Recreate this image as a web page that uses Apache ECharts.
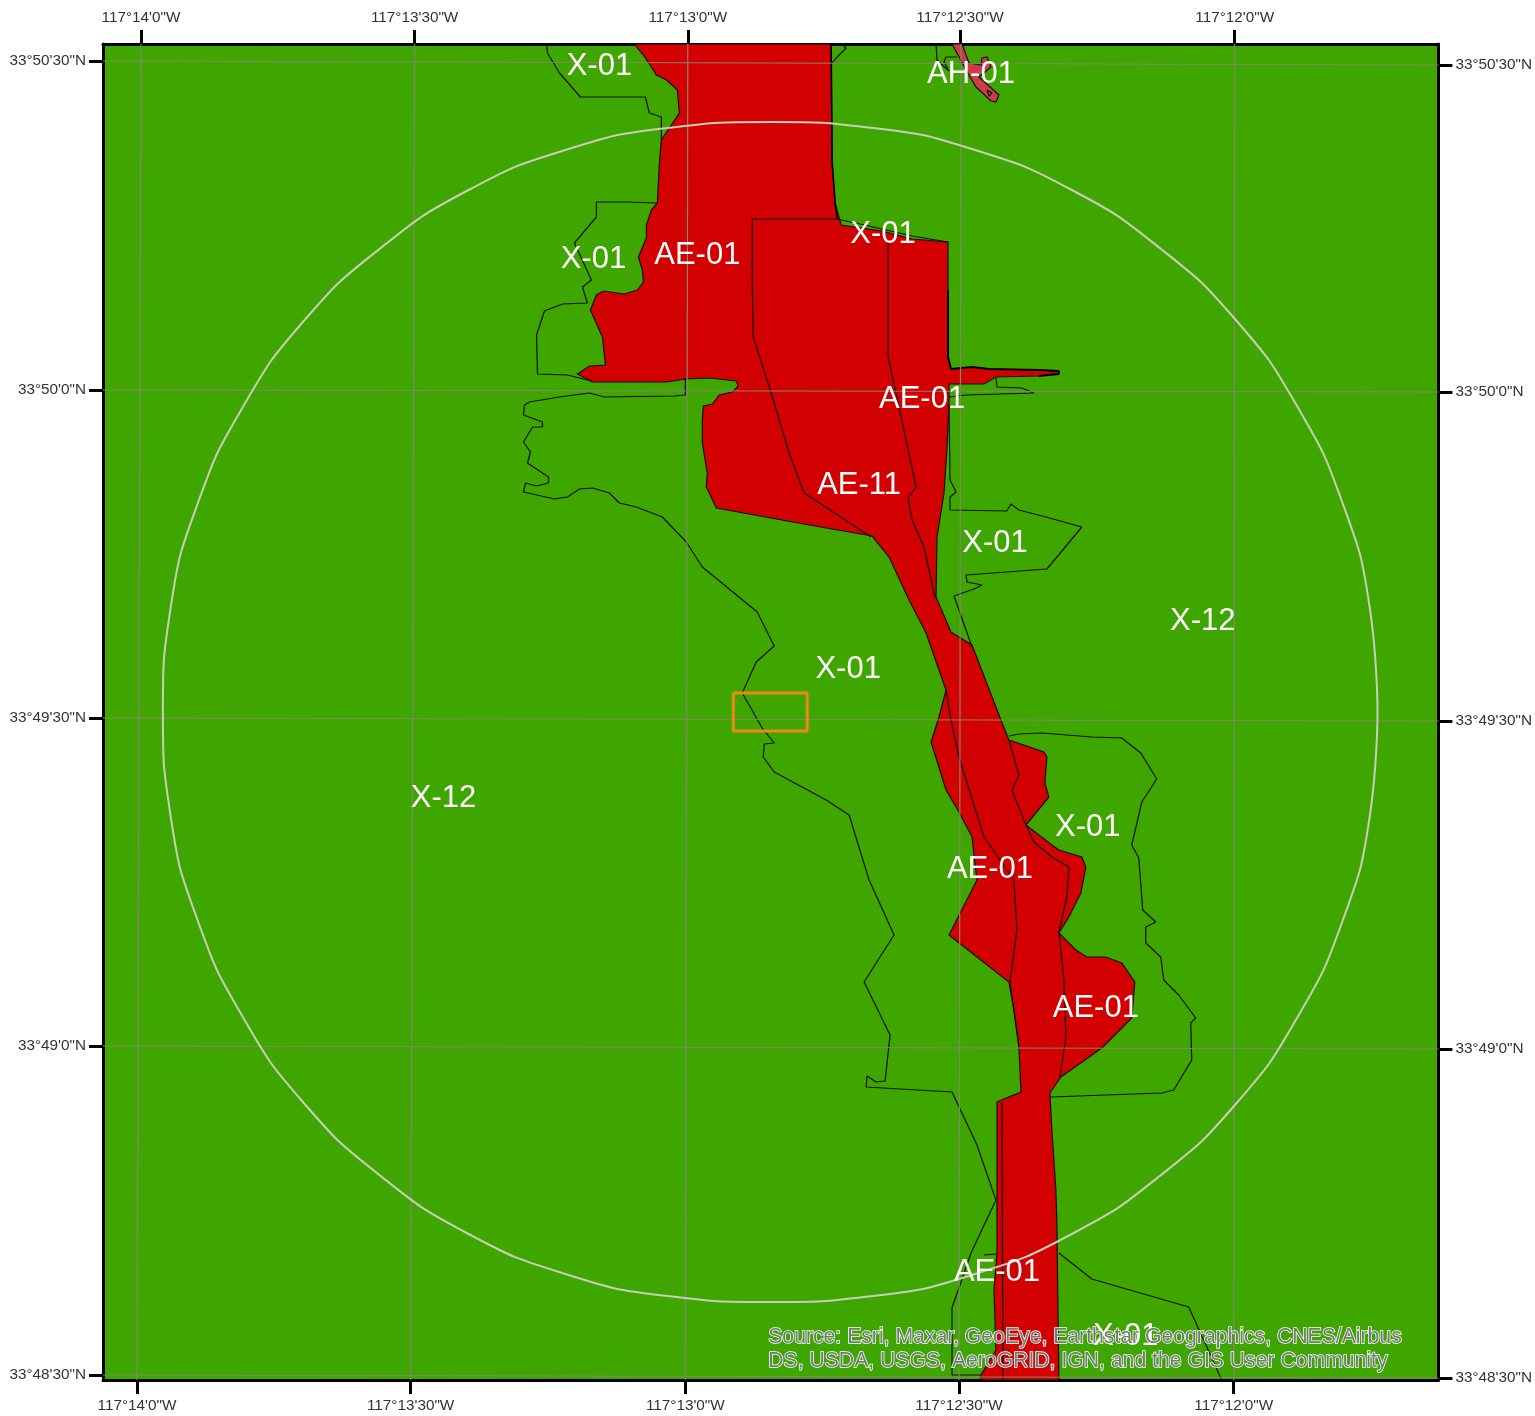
<!DOCTYPE html>
<html><head><meta charset="utf-8"><title>Flood zones</title>
<style>html,body{margin:0;padding:0;background:#fff}#c{width:1535px;height:1416px}</style>
<script src="https://cdn.jsdelivr.net/npm/echarts@6/dist/echarts.min.js"></script></head>
<body><div id="c"></div>
<script>
// Map data, in projected map units (1 unit = about 2.81 m), y growing south.
const lonLabels = ["117°14'0\"W","117°13'30\"W","117°13'0\"W","117°12'30\"W","117°12'0\"W"];
const latLabels = ["33°50'30\"N","33°50'0\"N","33°49'30\"N","33°49'0\"N","33°48'30\"N"];
const lonBottom = [137,411,686,960,1235];
const lonTop = [141,415,688.5,961,1236];
const latLeft = [61,390,718,1046,1375];
const latRight = [65,392,721,1049,1378];
const mapExtentX = [103,1440];
const mapExtentY = [44,1380];

const zoneAE = [[635,44],[644,55],[652,67],[657,75],[667,80],[678,90],[680,113],[672,125],[662,140],[660,163],[658,203],[652,210],[647,225],[647,238],[639,257],[643,270],[644,282],[638,290],[625,294],[604,291],[597,295],[591,310],[603,337],[606,365],[590,366],[578,374],[593,382],[653,382],[667,382],[687,379],[710,378],[737,381],[739,386],[733,392],[720,395],[713,404],[704,406],[703,420],[703,443],[708,473],[707,487],[717,508],[810,525],[873,536],[890,557],[910,600],[927,633],[947,690],[940,717],[932,742],[947,790],[960,812],[973,837],[975,855],[978,880],[950,935],[1010,982],[1015,1010],[1020,1047],[1022,1092],[1000,1101],[998,1102],[998,1200],[998,1253],[995,1290],[997,1350],[982,1375],[982,1380],[1060,1380],[1058,1223],[1057,1190],[1053,1130],[1051,1093],[1062,1077],[1103,1048],[1133,1018],[1136,982],[1123,963],[1107,957],[1088,957],[1077,950],[1060,933],[1070,917],[1082,893],[1087,867],[1083,857],[1060,850],[1053,845],[1027,825],[1050,797],[1046,783],[1048,757],[1045,752],[1010,740],[1002,720],[973,645],[952,632],[937,597],[938,537],[945,493],[948,447],[950,405],[950,384],[985,384],[997,377],[1040,376],[1060,373],[1060,371],[1040,370],[990,369],[973,367],[952,369],[949,357],[949,290],[949,242],[913,239],[883,231],[842,225],[836,203],[833,163],[832,44]];
const zoneAH = [[953,44],[963,44],[970,63],[982,65],[983,58],[988,57],[992,67],[980,77],[1000,95],[997,102],[992,101],[977,87],[967,70],[960,57]];

const inner1 = [[838,219],[753,219],[753,280],[754,337],[772,393],[790,453],[805,493],[872,537]];
const inner2 = [[889,243],[889,357],[900,407],[917,487],[909,498],[913,520],[925,547],[936,598]];
const inner3 = [[947,690],[952,720],[960,757],[985,837],[1015,880],[1018,930],[1011,982],[1020,1047]];
const inner4 = [[1010,740],[1020,775],[1013,790],[1027,825],[1035,842],[1053,857],[1070,867],[1068,897],[1060,932],[1065,980],[1067,1037],[1061,1077]];
const inner5 = [[1003,1102],[1004,1380]];
const notch = [[985,1255],[997,1254]];

const x01a = [[547,44],[548,53],[560,73],[581,97],[646,97],[650,113],[662,117],[662,140]];
const x01b = [[658,203],[627,202],[597,202],[597,217],[575,243],[592,280],[583,287],[588,303],[563,304],[545,311],[537,335],[538,374],[568,375],[592,381]];
const x01c = [[686,378],[686,395],[675,396],[605,397],[590,393],[560,397],[530,402],[525,405],[524,415],[543,422],[543,427],[533,427],[524,442],[531,452],[528,463],[549,477],[549,483],[537,486],[526,483],[524,492],[555,499],[568,497],[580,489],[593,488],[610,493],[620,503],[637,507],[663,517],[687,542],[703,567],[758,612],[775,646],[757,662],[743,693],[763,728],[775,743],[765,744],[764,757],[775,772],[827,800],[850,815],[870,880],[895,935],[865,982],[891,1035],[886,1081],[877,1082],[868,1076],[866,1076],[867,1087],[953,1092],[978,1145],[997,1200],[972,1253],[953,1308],[953,1375],[982,1375]];
const x01d = [[1060,1253],[1093,1279],[1190,1307],[1223,1380]];
const x01e = [[1052,1097],[1163,1093],[1175,1090],[1193,1060],[1192,1023],[1197,1018],[1180,995],[1165,980],[1162,957],[1147,943],[1147,927],[1157,922],[1144,910],[1140,858],[1133,845],[1143,802],[1158,779],[1142,753],[1123,738],[1093,737],[1043,733],[1020,734],[1010,736]];
const x01f = [[950,405],[951,480],[957,492],[951,497],[951,510],[1008,511],[1012,504],[1020,510],[1047,517],[1083,527],[1048,569],[967,575],[968,582],[983,585],[975,589],[955,596],[960,610],[973,647]];
const x01g = [[997,378],[998,387],[1023,388],[1035,393],[967,395],[950,397]];
const x01h = [[838,219],[870,226],[913,236],[949,242]];
const x01i = [[842,44],[847,48],[837,58],[833,63]];
const ahEdge = [[937,44],[938,60],[950,71],[945,62],[947,57],[958,57]];
const ahHole = [[988,90],[993,93],[990,96],[988,90]];
const spurEdge = [[949,290],[949,357],[952,369],[973,367],[990,369],[1040,370],[1060,371],[1060,374],[1040,376]];
const eastEdge = [[832,44],[833,163],[836,203],[838,219]];

const bufferRing = [[1379,712],[1371,606],[1344,503],[1299,407],[1238,321],[1161,248],[1073,190],[976,150],[874,128],[771,122],[668,128],[566,150],[469,190],[381,248],[304,321],[243,407],[198,503],[171,606],[163,712],[171,818],[198,921],[243,1017],[304,1103],[381,1176],[469,1234],[566,1274],[668,1296],[771,1302],[874,1296],[976,1274],[1073,1234],[1161,1176],[1238,1103],[1299,1017],[1344,921],[1371,818],[1379,712]];
const studyBox = [[734,693],[808,693],[808,731],[734,731],[734,693]];

const zoneLabels = [["X-01",600,64],["AH-01",972,72],["X-01",884,232],["X-01",594,257],["AE-01",698,253],["AE-01",923,397],["AE-11",860,483],["X-01",996,541],["X-12",1204,619],["X-01",849,667],["X-12",444,796],["X-01",1089,825],["AE-01",991,867],["AE-01",1097,1006],["AE-01",998,1270],["X-01",1127,1334]];
const creditText = "Source: Esri, Maxar, GeoEye, Earthstar Geographics, CNES/Airbus\nDS, USDA, USGS, AeroGRID, IGN, and the GIS User Community";
const creditAnchor = [[769,1349]];

const meridians = [[[141,44],[137,1380]],[[415,44],[411,1380]],[[688.5,44],[686,1380]],[[962,44],[960,1380]],[[1236,44],[1235,1380]]];
const parallels = [[[103,61],[1440,65]],[[103,390],[1440,392]],[[103,718],[1440,721]],[[103,1046],[1440,1049]],[[103,1375],[1440,1378]]];

const FONT = '"Liberation Sans", Arial, sans-serif';
const poly = (pts, fill, z) => ({type:'custom',coordinateSystem:'cartesian2d',z,silent:true,clip:true,data:pts,encode:{x:0,y:1},
  renderItem:(p,api)=> p.dataIndex!==0 ? null : ({type:'polygon',shape:{points:pts.map(d=>api.coord(d))},style:{fill,stroke:'#111',lineWidth:1.2}})});
const line = (pts,color,width,z,smooth) => ({type:'line',data:pts,symbol:'none',smooth:smooth||false,silent:true,z,clip:true,lineStyle:{color,width},animation:false});

const axisCommon = {type:'value',splitLine:{show:false},axisLine:{show:true,onZero:false,lineStyle:{color:'#000',width:3}},
  axisTick:{show:true,length:14,lineStyle:{color:'#000',width:3}}};
const xAx = (position,vals) => Object.assign({},axisCommon,{position,min:mapExtentX[0],max:mapExtentX[1],
  axisTick:Object.assign({},axisCommon.axisTick,{customValues:vals}),
  axisLabel:{customValues:vals,color:'#333',fontSize:15.3,fontFamily:FONT,margin:position==='top'?19:18,formatter:v=>lonLabels[vals.indexOf(v)]||''}});
const yAx = (position,vals) => Object.assign({},axisCommon,{position,inverse:true,min:mapExtentY[0],max:mapExtentY[1],
  axisTick:Object.assign({},axisCommon.axisTick,{customValues:vals}),
  axisLabel:{customValues:vals,color:'#333',fontSize:15.3,fontFamily:FONT,margin:17,formatter:v=>latLabels[vals.indexOf(v)]||''}});

const series = [
  poly(zoneAE,'#d20000',2),
  poly(zoneAH,'#cf3b48',2),
  ...[inner1,inner2,inner3,inner4,inner5,notch,x01a,x01b,x01c,x01d,x01e,x01f,x01g,x01h,x01i,ahEdge,ahHole].map(a=>line(a,'#111',1.2,3)),
  line(spurEdge,'#000',1.8,3),
  line(eastEdge,'#000',1.6,3),
  ...meridians.concat(parallels).map(a=>line(a,'#85856f',1.2,4)),
  line(bufferRing,'#c9cdbb',2,5,0.5),
  line(studyBox,'#ee8a12',3,6),
  {type:'scatter',z:7,silent:true,symbolSize:0,itemStyle:{opacity:1},data:zoneLabels.map(d=>[d[1],d[2],d[0]]),
   label:{show:true,position:'inside',align:'center',verticalAlign:'middle',offset:[0,2],formatter:p=>p.data[2],color:'#fff',fontSize:31,fontFamily:FONT}},
  {type:'scatter',z:8,silent:true,symbolSize:0,itemStyle:{opacity:1},data:creditAnchor,
   label:{show:true,position:'inside',align:'left',verticalAlign:'middle',formatter:creditText,color:'#6f7a74',fontSize:21.2,lineHeight:24,fontFamily:FONT,textBorderColor:'#fff',textBorderWidth:1.5}}
];

const chart = echarts.init(document.getElementById('c'),null,{renderer:'canvas'});
chart.setOption({animation:false,backgroundColor:'#fff',
  grid:{left:103,top:44,width:1337,height:1336,show:true,backgroundColor:'#3fa600',borderWidth:0},
  xAxis:[xAx('bottom',lonBottom),xAx('top',lonTop)],
  yAxis:[yAx('left',latLeft),yAx('right',latRight)],
  series});
</script></body></html>
